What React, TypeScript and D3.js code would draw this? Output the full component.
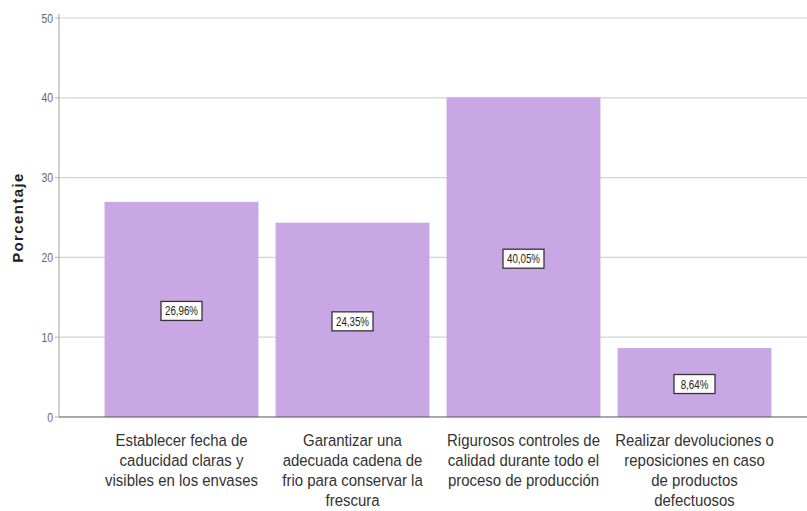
import React from "react";
import * as d3 from "d3";

const categories: string[][] = [
  ["Establecer fecha de", "caducidad claras y", "visibles en los envases"],
  ["Garantizar una", "adecuada cadena de", "frio para conservar la", "frescura"],
  ["Rigurosos controles de", "calidad durante todo el", "proceso de producción"],
  ["Realizar devoluciones o", "reposiciones en caso", "de productos", "defectuosos"],
];
const values: number[] = [26.96, 24.35, 40.05, 8.64];
const valueLabels: string[] = ["26,96%", "24,35%", "40,05%", "8,64%"];
const yTicks: number[] = [0, 10, 20, 30, 40, 50];
const yTitle = "Porcentaje";

const W = 807;
const H = 511;
const axisX = 59;
const rightX = 807;
const FONT = "'Liberation Sans', Arial, sans-serif";

export default function App() {
  const x = d3
    .scaleBand<number>()
    .domain(values.map((_, i) => i))
    .range([96, 780])
    .paddingInner(0.1)
    .paddingOuter(0.05);
  const y = d3.scaleLinear().domain([0, 50]).range([417, 18]);

  return (
    <svg
      width={W}
      height={H}
      style={{ position: "absolute", left: 0, top: 0, background: "#fff" }}
    >
      {yTicks.map((t) =>
        t === 0 ? null : (
          <line
            key={"g" + t}
            x1={axisX}
            x2={rightX}
            y1={y(t)}
            y2={y(t)}
            stroke="#d4d4d4"
            strokeWidth={1.2}
          />
        )
      )}
      {values.map((v, i) => (
        <rect
          key={"b" + i}
          x={x(i)}
          y={y(v)}
          width={x.bandwidth()}
          height={y(0) - y(v)}
          fill="#c9a7e4"
        />
      ))}
      <line x1={axisX} x2={axisX} y1={14} y2={y(0)} stroke="#b0b0b0" strokeWidth={1.2} />
      <line x1={axisX} x2={rightX} y1={y(0)} y2={y(0)} stroke="#555" strokeWidth={1.2} />
      {yTicks.map((t) => (
        <g key={"t" + t}>
          <line x1={axisX - 4} x2={axisX} y1={y(t)} y2={y(t)} stroke="#b0b0b0" />
          <text
            transform={`translate(${axisX - 6},${y(t)}) scale(0.8,1)`}
            dy="0.35em"
            textAnchor="end"
            fontSize={13}
            fill="#666"
            fontFamily={FONT}
          >
            {t}
          </text>
        </g>
      ))}
      <text
        transform={`translate(23,${y(25)}) rotate(-90)`}
        textAnchor="middle"
        fontSize={15}
        fontWeight="bold"
        letterSpacing={1.4}
        fill="#222"
        fontFamily={FONT}
      >
        {yTitle}
      </text>
      {values.map((v, i) => {
        const cx = (x(i) as number) + x.bandwidth() / 2;
        const cy = (y(v) + y(0)) / 2 + 1.5;
        const bw = 41;
        const bh = 19;
        return (
          <g key={"l" + i}>
            <rect
              x={cx - bw / 2}
              y={cy - bh / 2}
              width={bw}
              height={bh}
              fill="#fff"
              stroke="#333"
              strokeWidth={1.3}
            />
            <text
              transform={`translate(${cx},${cy}) scale(0.78,1)`}
              dy="0.36em"
              textAnchor="middle"
              fontSize={12.5}
              fill="#222"
              fontFamily={FONT}
            >
              {valueLabels[i]}
            </text>
          </g>
        );
      })}
      {categories.map((lines, i) => {
        const cx = (x(i) as number) + x.bandwidth() / 2;
        return (
          <g key={"c" + i}>
            {lines.map((ln, j) => (
              <text
                key={j}
                transform={`translate(${cx},${446 + j * 20}) scale(0.88,1)`}
                textAnchor="middle"
                fontSize={17}
                fill="#333"
                fontFamily={FONT}
              >
                {ln}
              </text>
            ))}
          </g>
        );
      })}
    </svg>
  );
}
